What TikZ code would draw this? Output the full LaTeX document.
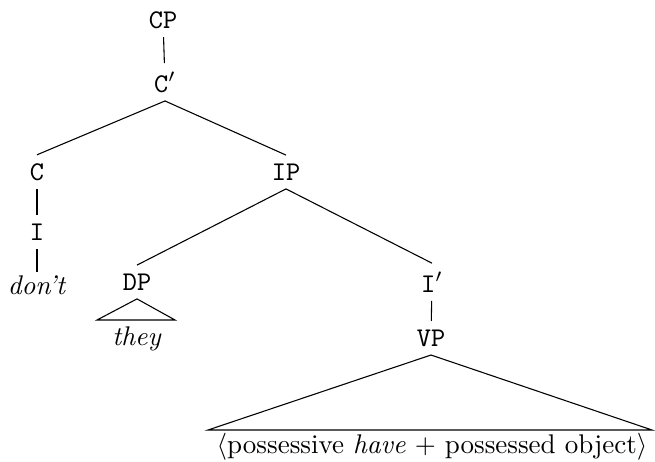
\documentclass[tikz,border=0pt]{standalone}
\usepackage{amsmath}

\begin{document}
\begin{tikzpicture}[x=0.37pt,y=-0.37pt,
    cat/.style={font=\ttfamily, inner sep=3pt},
    leaf/.style={inner sep=1pt}]
    \useasboundingbox (0,0) rectangle (655,461);
    % categories
    \node[cat] (cp)   at (163,20)  {CP};
    \node[cat] (cbar) at (165,82)  {C$'$};
    \node[cat] (c)    at (37,172)  {C};
    \node[cat] (i)    at (37,232)  {I};
    \node[cat] (ip)   at (286,172) {IP};
    \node[cat] (dp)   at (137,282) {DP};
    \node[cat] (ibar) at (432,282) {I$'$};
    \node[cat] (vp)   at (431,338) {VP};
    % leaves
    \node[leaf] (dont) at (37,285)  {\textit{don't}};
    \node[leaf] (they) at (137,339) {\textit{they}};
    \node[leaf] (obj)  at (432,447) {$\langle$possessive \textit{have} + possessed object$\rangle$};
    \coordinate (dpl) at (97,320);
    \coordinate (dpr) at (175,320);
    \coordinate (vpl) at (208,430);
    \coordinate (vpr) at (652,430);
    % branches
    \draw (cp) -- (cbar);
    \draw (cbar.south) -- (c.north);
    \draw (cbar.south) -- (ip.north);
    \draw (c) -- (i);
    \draw (i) -- (dont);
    \draw (ip.south) -- (dp.north);
    \draw (ip.south) -- (ibar.north);
    \draw (ibar) -- (vp);
    \draw (dp.south) -- (dpl) -- (dpr) -- cycle;
    \draw (vp.south) -- (vpl) -- (vpr) -- cycle;
\end{tikzpicture}
\end{document}
